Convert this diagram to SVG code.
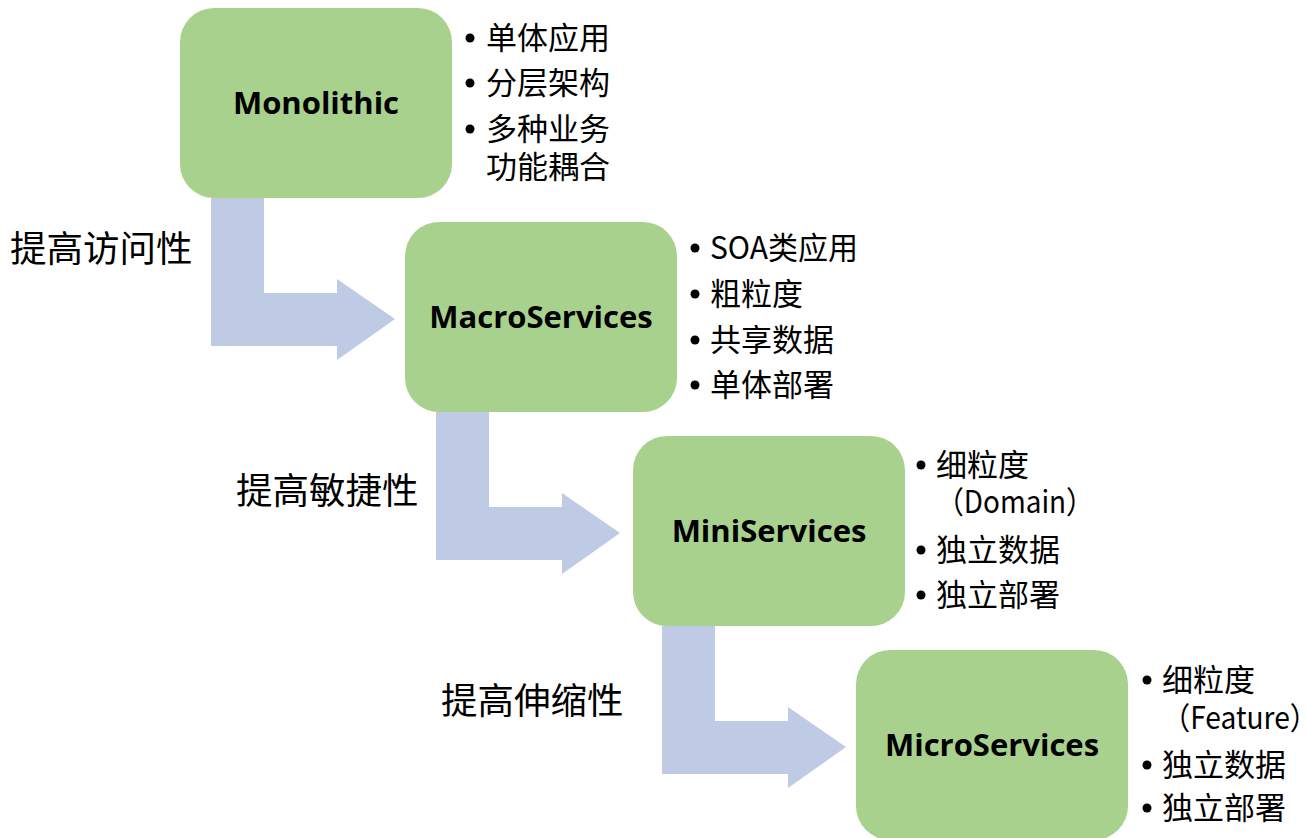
<svg xmlns="http://www.w3.org/2000/svg" width="1307" height="838" viewBox="0 0 1307 838">
  <style>
    .box { fill: #A9D18E; }
    .arrow { fill: #BFCAE5; }
    .title { font-family: "Open Sans", "Noto Sans", sans-serif; font-weight: bold; font-size: 31px; fill: #000; text-anchor: middle; dominant-baseline: central; }
    .item { font-family: "Noto Sans CJK SC", "Noto Sans", sans-serif; font-size: 31px; fill: #000; dominant-baseline: central; }
    .step { font-family: "Noto Sans CJK SC", sans-serif; font-size: 36.5px; fill: #000; dominant-baseline: central; }
    .dot { fill: #000; }
  </style>
  <defs>
    <!-- bent arrow shape, origin at top-left of the vertical bar -->
    <path id="bend" d="M0 0 H53 V95 H126 V81 L184 121 L126 162 V148 H0 Z"/>
  </defs>

  <g id="connectors">
    <use href="#bend" class="arrow" x="211" y="198"/>
    <use href="#bend" class="arrow" x="436" y="412"/>
    <use href="#bend" class="arrow" x="662" y="626"/>
  </g>

  <g id="step-labels">
    <text class="step" x="10" y="246">提高访问性</text>
    <text class="step" x="236" y="488">提高敏捷性</text>
    <text class="step" x="441" y="698">提高伸缩性</text>
  </g>

  <g id="monolithic">
    <rect class="box" x="180" y="8" width="272" height="190" rx="34"/>
    <text class="title" x="316" y="102">Monolithic</text>
    <circle class="dot" cx="470" cy="38" r="4.5"/>
    <text class="item" x="486" y="35">单体应用</text>
    <circle class="dot" cx="470" cy="83" r="4.5"/>
    <text class="item" x="486" y="80">分层架构</text>
    <circle class="dot" cx="470" cy="129" r="4.5"/>
    <text class="item" x="486" y="126">多种业务</text>
    <text class="item" x="486" y="164">功能耦合</text>
  </g>

  <g id="macroservices">
    <rect class="box" x="405" y="222" width="272" height="190" rx="34"/>
    <text class="title" x="541" y="316">MacroServices</text>
    <circle class="dot" cx="695" cy="248" r="4.5"/>
    <text class="item" x="710" y="245" textLength="148" lengthAdjust="spacingAndGlyphs">SOA类应用</text>
    <circle class="dot" cx="695" cy="294" r="4.5"/>
    <text class="item" x="710" y="291">粗粒度</text>
    <circle class="dot" cx="695" cy="340" r="4.5"/>
    <text class="item" x="710" y="337">共享数据</text>
    <circle class="dot" cx="695" cy="385" r="4.5"/>
    <text class="item" x="710" y="382">单体部署</text>
  </g>

  <g id="miniservices">
    <rect class="box" x="633" y="436" width="272" height="190" rx="34"/>
    <text class="title" x="769" y="530">MiniServices</text>
    <circle class="dot" cx="921" cy="465" r="4.5"/>
    <text class="item" x="936" y="462">细粒度</text>
    <text class="item" x="936" y="499" textLength="158" lengthAdjust="spacingAndGlyphs">（Domain）</text>
    <circle class="dot" cx="921" cy="550" r="4.5"/>
    <text class="item" x="936" y="547">独立数据</text>
    <circle class="dot" cx="921" cy="595" r="4.5"/>
    <text class="item" x="936" y="592">独立部署</text>
  </g>

  <g id="microservices">
    <rect class="box" x="856" y="650" width="272" height="190" rx="34"/>
    <text class="title" x="992" y="744">MicroServices</text>
    <circle class="dot" cx="1147" cy="680" r="4.5"/>
    <text class="item" x="1162" y="677">细粒度</text>
    <text class="item" x="1162" y="715" textLength="156" lengthAdjust="spacingAndGlyphs">（Feature）</text>
    <circle class="dot" cx="1147" cy="765" r="4.5"/>
    <text class="item" x="1162" y="762">独立数据</text>
    <circle class="dot" cx="1147" cy="808" r="4.5"/>
    <text class="item" x="1162" y="805">独立部署</text>
  </g>
</svg>
